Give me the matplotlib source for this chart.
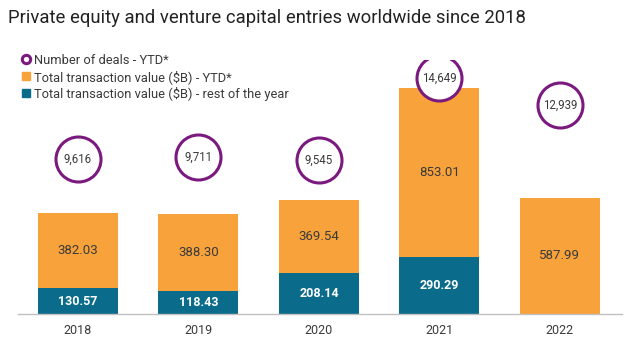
import matplotlib
matplotlib.use("Agg")
import matplotlib.pyplot as plt
from matplotlib.lines import Line2D
import numpy as np

plt.rcParams['font.family'] = ['Roboto', 'DejaVu Sans']

years = ["2018", "2019", "2020", "2021", "2022"]
ytd_value = [382.03, 388.30, 369.54, 853.01, 587.99]
rest_value = [130.57, 118.43, 208.14, 290.29, 0.0]
deals = [9616, 9711, 9545, 14649, 12939]

ORANGE = "#F8A23B"
TEAL = "#0B6B8A"
PURPLE = "#7A1A7E"
DARK = "#3a3a3a"

fig = plt.figure(figsize=(6.4, 3.5), dpi=100)
W, H = 640, 350
ax = fig.add_axes([18 / W, 36 / H, (622 - 18) / W, (314 - 60) / H])
x = np.arange(len(years))
bw = 0.664

ax.bar(x, rest_value, width=bw, color=TEAL, zorder=2)
ax.bar(x, ytd_value, width=bw, bottom=rest_value, color=ORANGE, zorder=2)

for i in range(len(years)):
    if rest_value[i] > 0:
        ax.text(x[i], rest_value[i] / 2, f"{rest_value[i]:.2f}", ha="center", va="center",
                color="white", fontsize=9, fontweight="bold", zorder=3)
    ax.text(x[i], rest_value[i] + ytd_value[i] / 2, f"{ytd_value[i]:.2f}", ha="center", va="center",
            color=DARK, fontsize=9.5, zorder=3)

ax.set_xlim(-0.498, 4.515)
ax.set_ylim(0, 1286)
ax.set_xticks(x)
ax.set_xticklabels(years, fontsize=9, color=DARK)
ax.tick_params(axis="x", length=0, pad=7)
ax.set_yticks([])
for s in ["top", "left", "right"]:
    ax.spines[s].set_visible(False)
ax.spines["bottom"].set_color("#c0c0c0")
ax.spines["bottom"].set_linewidth(1)

ax2 = ax.twinx()
ax2.set_ylim(0, 15757)
ax2.set_yticks([])
for s in ["top", "left", "right", "bottom"]:
    ax2.spines[s].set_visible(False)
ax2.scatter(x, deals, s=1050, facecolor="white", edgecolor=PURPLE, linewidth=2.2, zorder=4)
for i in range(len(years)):
    ax2.text(x[i], deals[i], f"{deals[i]:,}", ha="center", va="center", fontsize=8.3,
             color=DARK, zorder=5)

fig.text(8 / W, 1 - 18 / H, "Private equity and venture capital entries worldwide since 2018",
         ha="left", va="center", fontsize=13.3, color="#222222")

handles = [
    Line2D([], [], marker="o", linestyle="none", markerfacecolor="white",
           markeredgecolor=PURPLE, markeredgewidth=2.2, markersize=6),
    Line2D([], [], marker="s", linestyle="none", color=ORANGE, markersize=5.5),
    Line2D([], [], marker="s", linestyle="none", color=TEAL, markersize=5.5),
]
labels = ["Number of deals - YTD*", "Total transaction value ($B) - YTD*",
          "Total transaction value ($B) - rest of the year"]
fig.legend(handles, labels, loc="upper left", bbox_to_anchor=(22 / W, 1 - 54 / H),
           frameon=False, fontsize=9.3, handlelength=0.6, handletextpad=0.3,
           labelspacing=0.22, borderpad=0, borderaxespad=0, labelcolor=DARK)

fig.savefig("out.png", dpi=100)
